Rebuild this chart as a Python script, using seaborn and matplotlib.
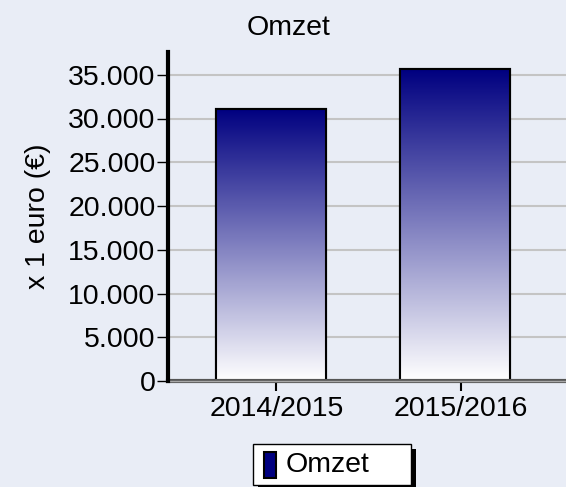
import numpy as np
import pandas as pd
import matplotlib
matplotlib.use("Agg")
import matplotlib.pyplot as plt
from matplotlib.colors import LinearSegmentedColormap
from matplotlib.ticker import FuncFormatter
from matplotlib.patches import Rectangle
import seaborn as sns

# data
jaren = ["2014/2015", "2015/2016"]
omzet = [31100, 35650]
y_ticks = [0, 5000, 10000, 15000, 20000, 25000, 30000, 35000]

bg = "#E9EDF6"
fs = 20.5
sns.set_theme(style="white")
plt.rcParams["font.family"] = ["Liberation Sans", "DejaVu Sans"]
plt.rcParams["text.color"] = "black"
plt.rcParams["axes.labelcolor"] = "black"
plt.rcParams["xtick.color"] = "black"
plt.rcParams["ytick.color"] = "black"

fig = plt.figure(figsize=(5.66, 4.87), dpi=100, facecolor=bg)
ax = fig.add_axes([168 / 566, 1 - 381 / 487, (566 - 168) / 566, (381 - 52) / 487])
ax.set_facecolor(bg)

df = pd.DataFrame({"jaar": jaren, "omzet": omzet})
sns.barplot(data=df, x="jaar", y="omzet", ax=ax, width=0.596,
            color="#000080", edgecolor="black", linewidth=1.5, zorder=3)

# verloop navy -> wit in elke balk
cmap = LinearSegmentedColormap.from_list("verloop", ["#FFFFFF", "#000080"])
grad = np.linspace(0, 1, 256).reshape(-1, 1)
for p in list(ax.patches):
    x0, y0 = p.get_x(), p.get_y()
    w, h = p.get_width(), p.get_height()
    im = ax.imshow(grad, cmap=cmap, origin="lower", aspect="auto",
                   extent=[x0, x0 + w, y0, y0 + h], zorder=3.5)
    im.set_clip_path(p)
    ax.add_patch(Rectangle((x0, y0), w, h, fill=False, edgecolor="black",
                           linewidth=1.5, zorder=4))

ax.set_xlim(-0.558, 1.6)
ax.set_ylim(0, 37600)
# de streepjes staan in het origineel iets rechts van het midden van de balk
ax.set_xticks([i + 0.03 for i in range(len(jaren))], jaren)
ax.set_yticks(y_ticks)
ax.yaxis.set_major_formatter(FuncFormatter(lambda v, _: f"{int(v):,}".replace(",", ".")))
ax.yaxis.grid(True, color="#C4C4C4", linewidth=1.5, zorder=0)
ax.set_axisbelow(True)

for s in ["top", "right"]:
    ax.spines[s].set_visible(False)
ax.spines["left"].set_color("black")
ax.spines["left"].set_linewidth(3)
ax.spines["left"].set_zorder(6)
ax.spines["bottom"].set_color("#555555")
ax.spines["bottom"].set_linewidth(3)
ax.spines["bottom"].set_zorder(5)
ax.axhline(0, color="#A8A8A8", linewidth=1, zorder=5.5, clip_on=False)

ax.tick_params(axis="y", left=True, length=8, width=1, labelsize=fs, pad=1)
ax.tick_params(axis="x", bottom=True, length=7, width=1.5, labelsize=fs,
               pad=4, direction="out")
ax.set_xlabel("")
ax.set_ylabel("x 1 euro (€)", fontsize=fs, labelpad=12)

fig.text(289 / 566, 1 - 28 / 487, "Omzet", ha="center", va="center", fontsize=fs)

# legenda met schaduw
lax = fig.add_axes([253 / 566, 1 - 485 / 487, 158 / 566, 41 / 487])
lax.set_xlim(0, 158)
lax.set_ylim(0, 41)
lax.axis("off")
lax.add_patch(Rectangle((5, -5), 158, 41, facecolor="black", edgecolor="none",
                        clip_on=False))
lax.add_patch(Rectangle((0, 0), 158, 41, facecolor="white", edgecolor="black",
                        linewidth=1, clip_on=False))
lax.add_patch(Rectangle((11, 7), 12, 26, facecolor="#000080", edgecolor="black",
                        linewidth=1.5))
lax.text(33, 20, "Omzet", ha="left", va="center", fontsize=fs)

fig.savefig("out.png", dpi=100, facecolor=bg)
